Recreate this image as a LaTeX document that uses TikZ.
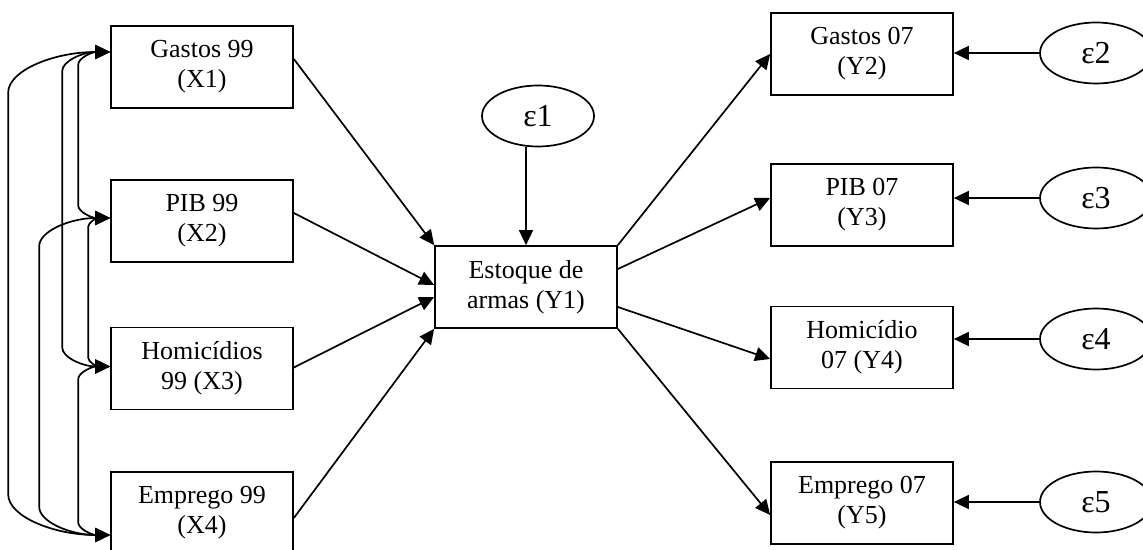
\documentclass[tikz,border=0pt]{standalone}
\usepackage{fontspec}
\setmainfont{Liberation Serif}
\usetikzlibrary{shapes.geometric,arrows.meta,calc}
\begin{document}
\begin{tikzpicture}[x=0.5pt,y=-0.5pt,
  box/.style={draw, line width=0.85pt, minimum width=91pt, minimum height=41pt, inner sep=0pt, align=center, font=\fontsize{13}{15}\selectfont},
  err/.style={draw, ellipse, line width=0.85pt, minimum width=56pt, minimum height=30.5pt, inner sep=0pt, font=\fontsize{16}{18}\selectfont},
  arr/.style={line width=0.85pt, -{Triangle[length=7.5pt,width=7pt]}},
  cov/.style={line width=0.85pt, {Triangle[length=7.5pt,width=7pt]}-{Triangle[length=7.5pt,width=7pt]}},
  cv/.style={to path={.. controls ($(\tikztostart)+(-0.55*#1,0)$) and ($(\tikztostart)+(-#1,0.18*#1)$) .. ($(\tikztostart)+(-#1,0.4*#1)$) -- ($(\tikztotarget)+(-#1,-0.4*#1)$) .. controls ($(\tikztotarget)+(-#1,-0.18*#1)$) and ($(\tikztotarget)+(-0.55*#1,0)$) .. (\tikztotarget)}}]
\clip (0,0) rectangle (1143,550);
% left boxes
\node[box] (x1) at (202,67) {Gastos 99\\(X1)};
\node[box] (x2) at (202,221) {PIB 99\\(X2)};
\node[box] (x3) at (202,368.5) {Homicídios\\99 (X3)};
\node[box] (x4) at (202,513) {Emprego 99\\(X4)};
% central box
\node[box] (y1) at (526,287) {Estoque de\\armas (Y1)};
\node[err] (e1) at (538,116) {ε1};
% right boxes
\node[box] (y2) at (862,54) {Gastos 07\\(Y2)};
\node[box] (y3) at (862,205) {PIB 07\\(Y3)};
\node[box] (y4) at (862,347.5) {Homicídio\\07 (Y4)};
\node[box] (y5) at (862,503) {Emprego 07\\(Y5)};
% error ellipses
\node[err] (e2) at (1096,53) {ε2};
\node[err] (e3) at (1096,198) {ε3};
\node[err] (e4) at (1096,339) {ε4};
\node[err] (e5) at (1096,502) {ε5};
% inputs to Y1
\draw[arr] ($(x1.east)+(0,-8)$) -- (y1.north west);
\draw[arr] ($(x2.east)+(0,-8)$) -- ($(y1.west)+(0,-2)$);
\draw[arr] ($(x3.east)+(0,-1)$) -- ($(y1.west)+(0,10)$);
\draw[arr] ($(x4.east)+(0,5)$) -- (y1.south west);
\draw[arr] (e1.south -| y1.north) -- (y1.north);
% outputs from Y1
\draw[arr] (y1.north east) -- (y2.west);
\draw[arr] ($(y1.east)+(0,-18)$) -- ($(y3.west)+(0,-7)$);
\draw[arr] ($(y1.east)+(0,20)$) -- ($(y4.west)+(0,11.5)$);
\draw[arr] (y1.south east) -- ($(y5.west)+(0,12)$);
% errors to outcomes
\draw[arr] (e2.west) -- (e2.west -| y2.east);
\draw[arr] (e3.west) -- (e3.west -| y3.east);
\draw[arr] (e4.west) -- (e4.west -| y4.east);
\draw[arr] (e5.west) -- (e5.west -| y5.east);
% covariances
\coordinate (a1) at ($(x1.west)+(0,-15)$);
\coordinate (a2) at ($(x2.west)+(0,-3)$);
\coordinate (a3) at ($(x3.west)+(0,-2)$);
\coordinate (a4) at ($(x4.west)+(0,22)$);
\draw[cov] (a1) to[cv=102] (a4);
\draw[cov] (a1) to[cv=48] (a3);
\draw[cov] (a1) to[cv=32] (a2);
\draw[cov] (a2) to[cv=71] (a4);
\draw[cov] (a2) to[cv=22] (a3);
\draw[cov] (a3) to[cv=32] (a4);
\end{tikzpicture}
\end{document}
